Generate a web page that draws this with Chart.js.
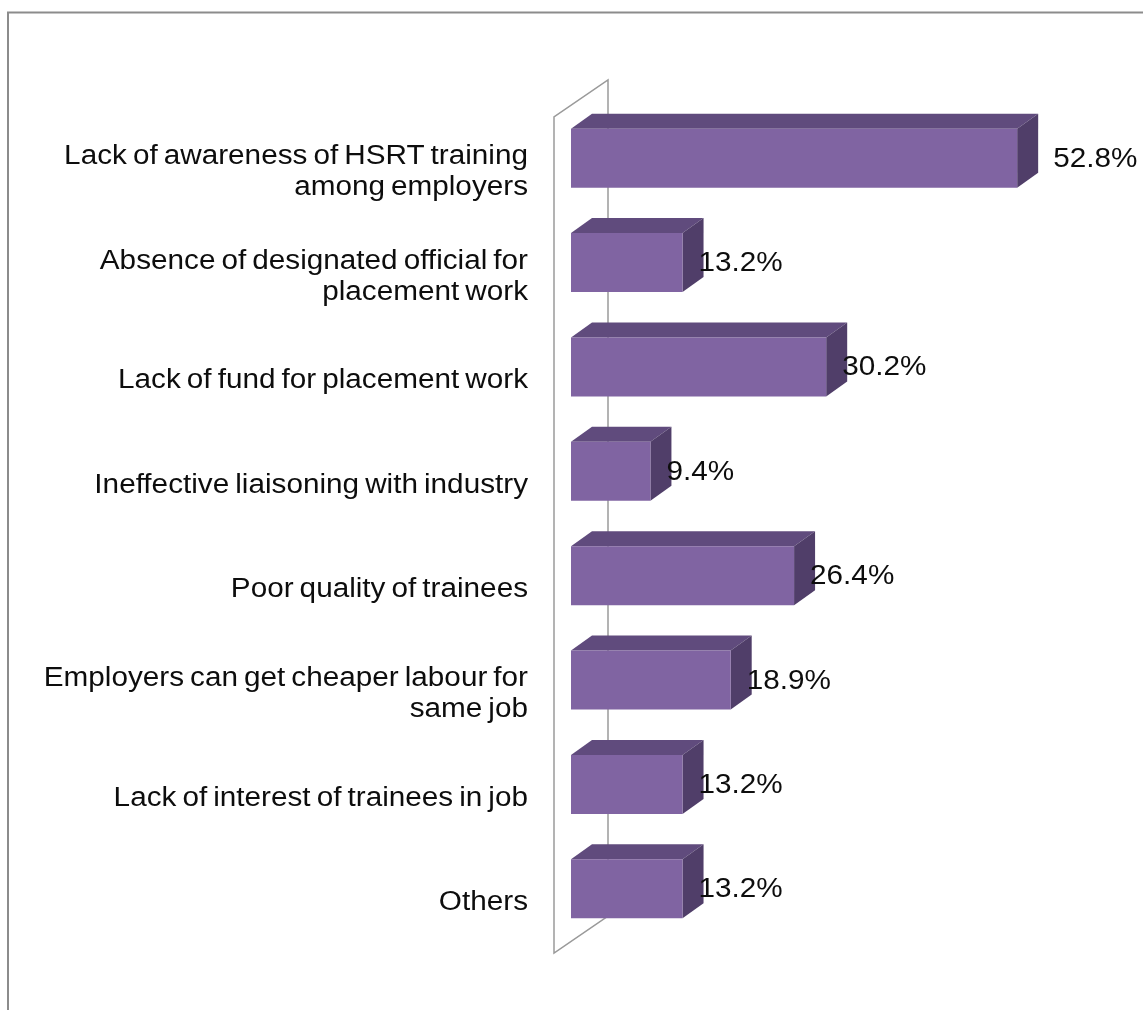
<!DOCTYPE html>
<html>
<head>
<meta charset="utf-8">
<script src="https://cdn.jsdelivr.net/npm/chart.js@4.4.1/dist/chart.umd.min.js"></script>
<style>
  html, body { margin: 0; padding: 0; background: #fff; }
  #chart { display: block; }
</style>
</head>
<body>
<canvas id="chart" width="1143" height="1010"></canvas>
<script>
const categories = [
  ['Lack of awareness of HSRT training', 'among employers'],
  ['Absence of designated official for', 'placement work'],
  'Lack of fund for placement work',
  'Ineffective liaisoning with industry',
  'Poor quality of trainees',
  ['Employers can get cheaper labour for', 'same job'],
  'Lack of interest of trainees in job',
  'Others'
];
const percentValues = [52.8, 13.2, 30.2, 9.4, 26.4, 18.9, 13.2, 13.2];
const axisMax = 60;

const FRONT = '#8064a2';
const TOP = '#604b7d';
const SIDE = '#503e69';
const DEPTH_X = 21;
const DEPTH_Y = -15;
const FONT = '27px "Liberation Sans", Arial, sans-serif';
const STRETCH = 1.1;

// text is a little wide in this style, so squeeze it through a scale
function drawText(ctx, text, x, y, align) {
  ctx.save();
  ctx.translate(x, y);
  ctx.scale(STRETCH, 1);
  ctx.textAlign = align;
  ctx.fillText(text, 0, 0);
  ctx.restore();
}

function poly(ctx, pts, fill) {
  ctx.beginPath();
  ctx.moveTo(pts[0][0], pts[0][1]);
  for (let i = 1; i < pts.length; i++) ctx.lineTo(pts[i][0], pts[i][1]);
  ctx.closePath();
  ctx.fillStyle = fill;
  ctx.fill();
}

const frame3d = {
  id: 'frame3d',
  beforeDraw(chart) {
    const ctx = chart.ctx;
    ctx.save();
    ctx.strokeStyle = '#8c8c8c';
    ctx.lineWidth = 2;
    ctx.beginPath();
    ctx.moveTo(8, 1010);
    ctx.lineTo(8, 12.5);
    ctx.lineTo(1143, 12.5);
    ctx.stroke();
    ctx.restore();
  },
  beforeDatasetsDraw(chart) {
    const ctx = chart.ctx;
    const a = chart.chartArea;
    const fx = a.left - 17, ftop = a.top + 11, fbot = a.bottom + 12;
    const bx = fx + 54, dy = -37;
    ctx.save();
    // side wall
    ctx.strokeStyle = '#9a9a9a';
    ctx.lineWidth = 1.5;
    ctx.beginPath();
    ctx.moveTo(fx, fbot);
    ctx.lineTo(fx, ftop);
    ctx.lineTo(bx, ftop + dy);
    ctx.lineTo(bx, fbot + dy);
    ctx.closePath();
    ctx.stroke();
    // top and right faces of each bar, front face drawn by chart.js
    chart.getDatasetMeta(0).data.forEach(bar => {
      const x0 = bar.base, x1 = bar.x;
      const yt = bar.y - bar.height / 2, yb = bar.y + bar.height / 2;
      poly(ctx, [[x0, yt], [x0 + DEPTH_X, yt + DEPTH_Y], [x1 + DEPTH_X, yt + DEPTH_Y], [x1, yt]], TOP);
      poly(ctx, [[x1, yt], [x1 + DEPTH_X, yt + DEPTH_Y], [x1 + DEPTH_X, yb + DEPTH_Y], [x1, yb]], SIDE);
    });
    ctx.restore();
  },
  afterDatasetsDraw(chart) {
    const ctx = chart.ctx;
    const yScale = chart.scales.y;
    const maxVal = Math.max(...percentValues);
    ctx.save();
    ctx.font = FONT;
    ctx.fillStyle = '#0d0d0d';
    ctx.textBaseline = 'middle';
    // category labels
    ctx.wordSpacing = '-2px';
    categories.forEach((lab, i) => {
      const lines = Array.isArray(lab) ? lab : [lab];
      const cy = yScale.getPixelForValue(i) + 14;
      const lh = 31;
      lines.forEach((ln, k) => {
        drawText(ctx, ln, 528, cy + (k - (lines.length - 1) / 2) * lh, 'right');
      });
    });
    ctx.wordSpacing = '0px';
    // value labels
    chart.getDatasetMeta(0).data.forEach((bar, i) => {
      const v = percentValues[i];
      const off = v === maxVal ? 36 : 16;
      drawText(ctx, v.toFixed(1) + '%', bar.x + off, bar.y + 1, 'left');
    });
    ctx.restore();
  }
};

new Chart(document.getElementById('chart'), {
  type: 'bar',
  data: {
    labels: categories,
    datasets: [{
      data: percentValues,
      backgroundColor: FRONT,
      borderWidth: 0,
      barPercentage: 0.565,
      categoryPercentage: 1
    }]
  },
  options: {
    indexAxis: 'y',
    responsive: false,
    animation: false,
    layout: { padding: { left: 571, right: 65, top: 106, bottom: 69 } },
    plugins: {
      legend: { display: false },
      tooltip: { enabled: false }
    },
    scales: {
      x: { display: false, min: 0, max: axisMax },
      y: { display: false }
    }
  },
  plugins: [frame3d]
});
</script>
</body>
</html>
